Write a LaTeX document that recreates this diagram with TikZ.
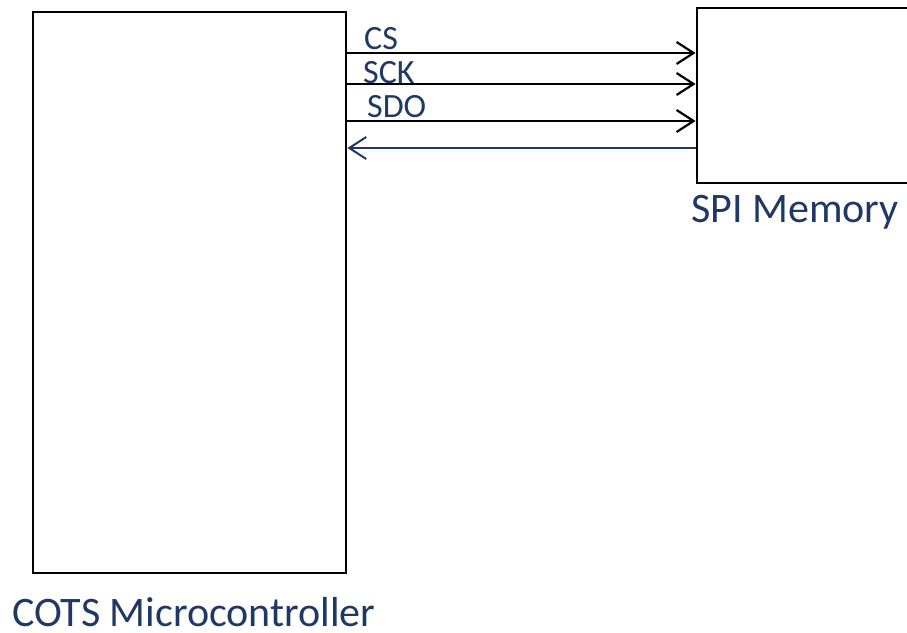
\documentclass[tikz,border=0pt]{standalone}
\usepackage{fontspec}
\setmainfont{Carlito}
\usetikzlibrary{arrows.meta}
\definecolor{navy}{HTML}{1F3864}
\begin{document}
\begin{tikzpicture}[x=1pt,y=-1pt,
  blk/.style={draw=black,line width=2.8pt,inner sep=0pt,fill=white},
  sig/.style={line width=2.4pt,-{Straight Barb[length=17pt,width=22pt,line width=2.2pt]}},
  ret/.style={navy,line width=2.2pt,-{Straight Barb[length=17pt,width=22pt,line width=2pt]}},
  lbl/.style={text=navy,inner sep=0pt,anchor=base west,font=\fontsize{34}{40}\selectfont},
  title/.style={text=navy,inner sep=0pt,text depth=0pt,anchor=base west,font=\fontsize{42}{50}\selectfont}]
\useasboundingbox (0,0) rectangle (907,632);
\node[blk,minimum width=313pt,minimum height=561pt] (mcu) at (189.5,292.5) {};
\node[blk,minimum width=223pt,minimum height=175pt] (mem) at (808.5,95.5) {};
\coordinate (ycs) at (0,53);
\coordinate (ysck) at (0,84);
\coordinate (ysdo) at (0,121);
\coordinate (ysdi) at (0,148);
\draw[sig] (mcu.east |- ycs) -- (mem.west |- ycs);
\draw[sig] (mcu.east |- ysck) -- (mem.west |- ysck);
\draw[sig] (mcu.east |- ysdo) -- (mem.west |- ysdo);
\draw[ret] (mem.west |- ysdi) -- (mcu.east |- ysdi);
\node[lbl] (lcs) at (364,49.5) {CS};
\node[lbl] (lsck) at (363,83) {SCK};
\node[lbl] (lsdo) at (367,117) {SDO};
\node[title] (lmem) at (691,222) {SPI Memory};
\node[title] (lmcu) at (12,626.5) {COTS Microcontroller};
\end{tikzpicture}
\end{document}
